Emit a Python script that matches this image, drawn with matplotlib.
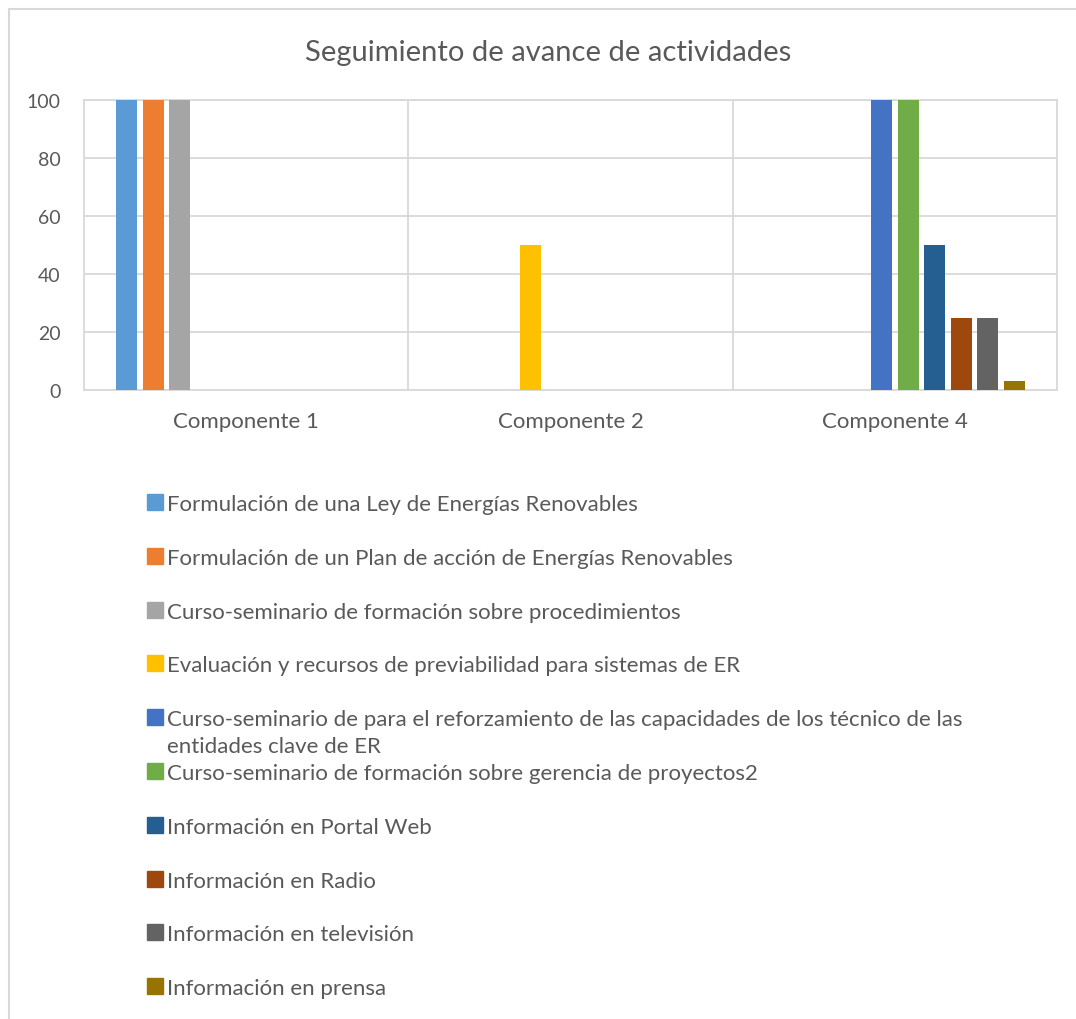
import numpy as np
import matplotlib
matplotlib.use("Agg")
import matplotlib.pyplot as plt
from matplotlib.patches import Rectangle

# datos del gráfico
categorias = ["Componente 1", "Componente 2", "Componente 4"]
series = [
    "Formulación de una Ley de Energías Renovables",
    "Formulación de un Plan de acción de Energías Renovables",
    "Curso-seminario de formación sobre procedimientos",
    "Evaluación y recursos de previabilidad para sistemas de ER",
    "Curso-seminario de para el reforzamiento de las capacidades de los técnico de las\nentidades clave de ER",
    "Curso-seminario de formación sobre gerencia de proyectos2",
    "Información en Portal Web",
    "Información en Radio",
    "Información en televisión",
    "Información en prensa",
]
valores = [
    [100, 0, 0],
    [100, 0, 0],
    [100, 0, 0],
    [0, 50, 0],
    [0, 0, 100],
    [0, 0, 100],
    [0, 0, 50],
    [0, 0, 25],
    [0, 0, 25],
    [0, 0, 3],
]
colores = ["#5B9BD5", "#ED7D31", "#A5A5A5", "#FFC000", "#4472C4",
           "#70AD47", "#255E91", "#9E480E", "#636363", "#997300"]
yticks = [0, 20, 40, 60, 80, 100]

plt.rcParams["font.family"] = ["Lato", "DejaVu Sans"]
texto = "#595959"
gris = "#D9D9D9"

W, H = 1076, 1020
fig = plt.figure(figsize=(W / 100, H / 100), dpi=100)

# borde del área del gráfico
fig.add_artist(Rectangle((8.5 / W, -0.1), 1.2, 1 - 9.5 / H + 0.1, transform=fig.transFigure,
                         fill=False, edgecolor=gris, linewidth=1.5))

ax = fig.add_axes([84 / W, 1 - 391 / H, (1057 - 84) / W, (391 - 101) / H])

n = len(series)
slot = 0.082
ancho = 0.065
x = np.arange(len(categorias))
for i in range(n):
    pos = x - slot * n / 2 + slot * (i + 0.5)
    ax.bar(pos, valores[i], width=ancho, color=colores[i], zorder=3)

ax.set_xlim(-0.5, len(categorias) - 0.5)
ax.set_ylim(0, 100)
ax.set_yticks(yticks)
ax.set_xticks(x)
ax.set_xticklabels(categorias)
ax.set_xticks(np.arange(len(categorias) - 1) + 0.5, minor=True)
ax.grid(axis="y", color=gris, linewidth=1.3, zorder=0)
ax.grid(axis="x", which="minor", color=gris, linewidth=1.3, zorder=0)
ax.grid(axis="x", which="major", visible=False)
for s in ax.spines.values():
    s.set_color(gris)
    s.set_linewidth(1.3)
ax.tick_params(which="both", length=0, colors=texto)
ax.tick_params(axis="y", labelsize=14, pad=17)
ax.tick_params(axis="x", labelsize=16, pad=15)

fig.text(548 / W, 1 - 53 / H, "Seguimiento de avance de actividades",
         ha="center", va="center", fontsize=21, color=texto)

# leyenda manual, una columna
y0, paso = 503, 53.8
for i, lab in enumerate(series):
    yc = y0 + i * paso
    fig.add_artist(Rectangle((147 / W, 1 - (yc + 8) / H), 16 / W, 16 / H,
                             transform=fig.transFigure, color=colores[i]))
    fig.text(167 / W, 1 - (yc - 8) / H, lab, ha="left", va="top", fontsize=16,
             color=texto, linespacing=1.4)

fig.savefig("out.png", dpi=100)
